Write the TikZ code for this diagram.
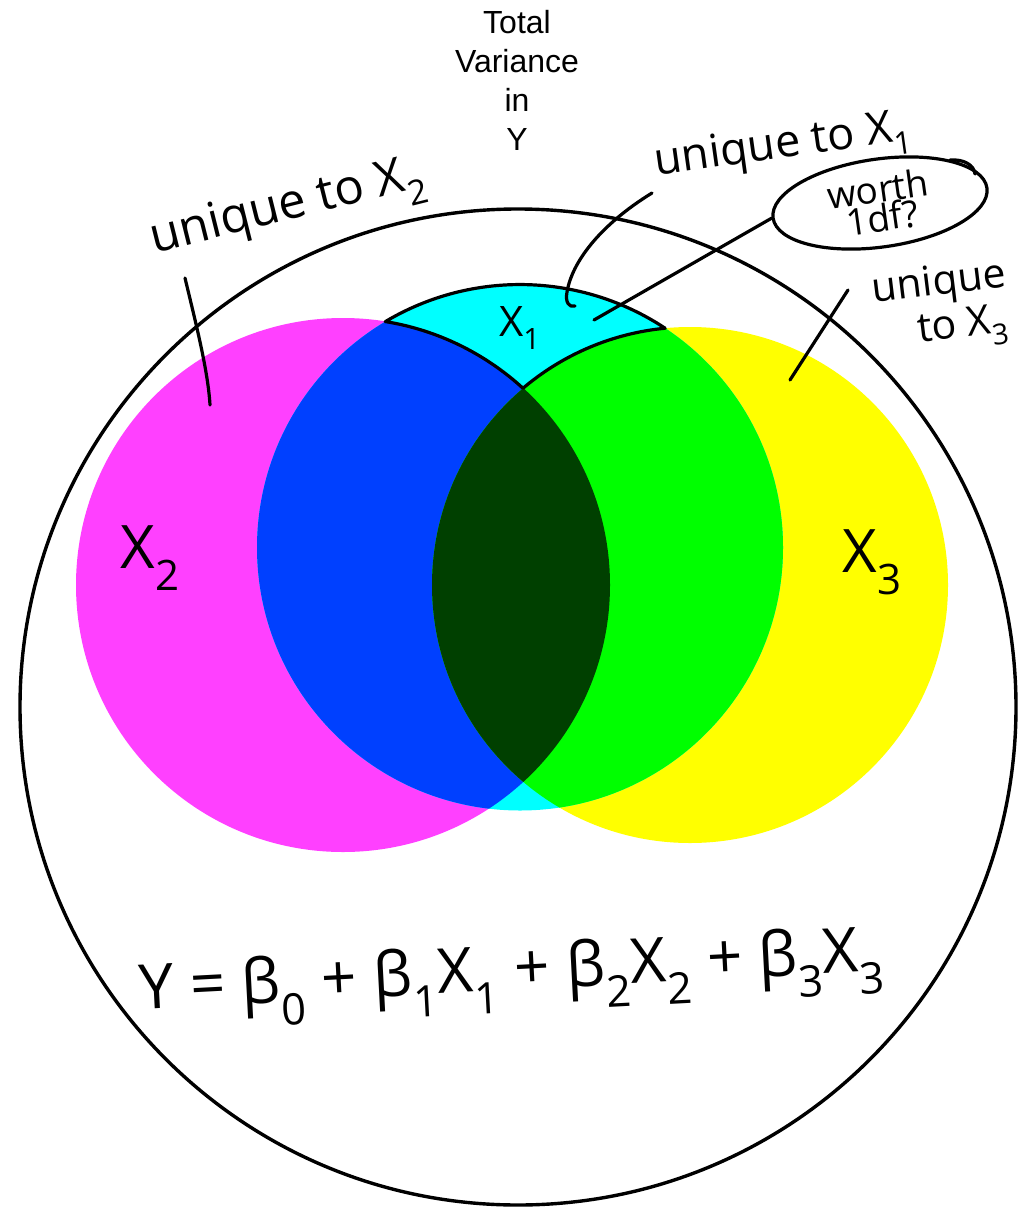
\documentclass[tikz,border=0pt]{standalone}
\usepackage{fontspec}
\setmainfont{Liberation Sans}
\newfontfamily\hand{Open Sans}
\usetikzlibrary{shapes.geometric}
\definecolor{cmag}{HTML}{FF40FF}
\definecolor{cblu}{HTML}{0040FF}
\definecolor{ccya}{HTML}{00FFFF}
\definecolor{cgrn}{HTML}{00FF00}
\definecolor{cyel}{HTML}{FFFF00}
\definecolor{cdkg}{HTML}{004000}
\begin{document}
\begin{tikzpicture}[x=1pt,y=-1pt,
  pen/.style={line width=3.2pt, line cap=round, line join=round},
  handtxt/.style={inner sep=0pt, text=black},
]
\useasboundingbox (0,0) rectangle (1031,1207);
\fill[white] (0,0) rectangle (1031,1207);
\def\Mag{(343,585) circle[radius=267]}
\def\Yel{(690,585) circle[radius=258]}
\def\Cya{(520,547.5) circle[radius=263]}
% coloured circles
\fill[cmag] \Mag;
\fill[cyel] \Yel;
\fill[ccya] \Cya;
\begin{scope}
  \clip \Cya;
  \fill[cblu] \Mag;
  \fill[cgrn] \Yel;
  \clip \Mag;
  \fill[cdkg] \Yel;
\end{scope}
% total variance circle
\draw[line width=3.4pt] (518,707) circle[radius=498];
% outline of the region unique to X1
\draw[pen] (385.7,321.4) arc[start angle=-120.7, end angle=-56.5, radius=263]
  arc[start angle=-95.5, end angle=-130.3, radius=258]
  arc[start angle=-47.5, end angle=-80.8, radius=267] -- cycle;
% title
\node[anchor=north, align=center, inner sep=0pt,
  font=\fontsize{32}{39}\selectfont] (tv) at (517,10) {Total\\Variance\\in\\Y};
% handwritten labels
\node[handtxt, rotate=14, font={\hand\fontsize{49}{49}\selectfont}] (u2) at (288,210) {unique to X\textsubscript{2}};
\node[handtxt, rotate=8, font={\hand\fontsize{45}{45}\selectfont}] (u1) at (783,148) {unique to X\textsubscript{1}};
\node[draw, ellipse, pen, minimum width=216pt, minimum height=88pt, inner sep=0pt,
  rotate=8, align=center, font={\hand\fontsize{37}{29}\selectfont}] (w) at (880,203) {worth\\1df?};
\node[handtxt, rotate=7, align=left, font={\hand\fontsize{41}{45}\selectfont}] (u3) at (942,308) {unique\\\hspace*{40pt}to X\textsubscript{3}};
\node[handtxt, font={\hand\fontsize{42}{42}\selectfont}] (x1) at (520,328) {X\textsubscript{1}};
\node[handtxt, font={\hand\fontsize{60}{60}\selectfont}] (x2) at (150,558) {X\textsubscript{2}};
\node[handtxt, font={\hand\fontsize{60}{60}\selectfont}] (x3) at (872,562) {X\textsubscript{3}};
\node[handtxt, rotate=3, font={\hand\fontsize{62}{62}\selectfont}] (eq) at (512,978)
  {Y = β\textsubscript{0} + β\textsubscript{1}X\textsubscript{1} + β\textsubscript{2}X\textsubscript{2} + β\textsubscript{3}X\textsubscript{3}};
% pointer strokes
\coordinate (p2a) at (185,278);
\coordinate (p2b) at (210,405);
\coordinate (p1a) at (652,193);
\coordinate (p1b) at (575,306);
\coordinate (pw) at (594,320);
\coordinate (p3a) at (848,290);
\coordinate (p3b) at (790,380);
\draw[pen] (p2a) .. controls (195,320) and (208,370) .. (p2b);
\draw[pen] (p1a) .. controls (600,225) and (572,262) .. (567,292) .. controls (565,302) and (569,308) .. (p1b);
\draw[pen] (w.west) -- (pw);
\draw[pen] (p3a) -- (p3b);
\draw[pen] (950,160) .. controls (964,159) and (974,165) .. (975,174);
\end{tikzpicture}
\end{document}
